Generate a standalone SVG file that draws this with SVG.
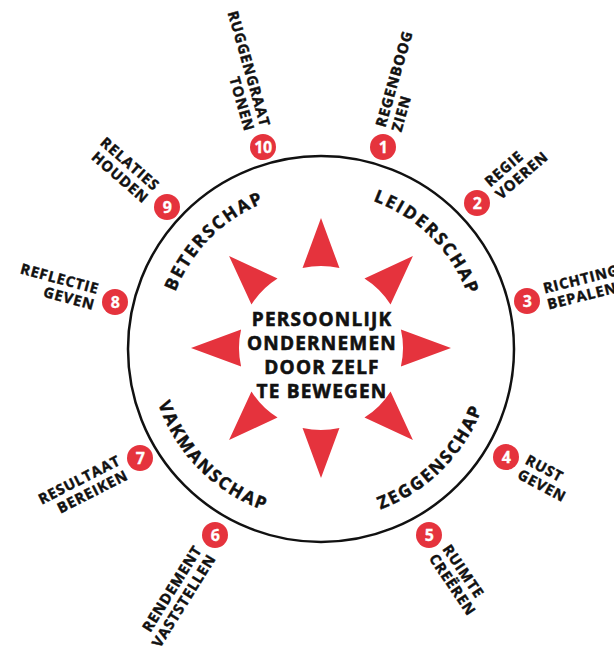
<svg xmlns="http://www.w3.org/2000/svg" xmlns:xlink="http://www.w3.org/1999/xlink" width="614" height="646" viewBox="0 0 614 646">
<style>
  text { font-family: "Open Sans", "Noto Sans", "Liberation Sans", sans-serif; font-weight: bold; fill: #111; stroke: #111; stroke-width: 0.45px; }
  .center { font-size: 19px; letter-spacing: 1.2px; text-anchor: middle; stroke-width: 0.6px; }
  .arc { font-size: 17.5px; letter-spacing: 2px; text-anchor: middle; }
  .lbl { font-size: 14.5px; letter-spacing: 0.9px; }
  .r { text-anchor: start; }
  .l { text-anchor: end; }
  .num { font-size: 16px; fill: #fff; stroke: #fff; stroke-width: 0.3px; text-anchor: middle; letter-spacing: -0.5px; }
  .dot { fill: #e5333d; }
  .tri { fill: #e5333d; }
</style>
<defs>
  <path id="tri" class="tri" d="M -18.45 -79.9 L 0 -130 L 18.45 -79.9 A 82 82 0 0 0 -18.45 -79.9 Z"/>
  <path id="arcBeter" d="M 165 348 A 156 156 0 0 1 321 192"/>
  <path id="arcLeider" d="M 321 192 A 156 156 0 0 1 477 348"/>
  <path id="arcVak" d="M 149 348 A 172 172 0 0 0 321 520"/>
  <path id="arcZeg" d="M 321 520 A 172 172 0 0 0 493 348"/>
</defs>
<rect width="614" height="646" fill="#fff"/>

<g id="ring">
  <circle cx="321" cy="349" r="193" fill="none" stroke="#111" stroke-width="2.5"/>
</g>

<g id="star" transform="translate(321,348)">
  <use xlink:href="#tri"/>
  <use xlink:href="#tri" transform="rotate(45)"/>
  <use xlink:href="#tri" transform="rotate(90)"/>
  <use xlink:href="#tri" transform="rotate(135)"/>
  <use xlink:href="#tri" transform="rotate(180)"/>
  <use xlink:href="#tri" transform="rotate(225)"/>
  <use xlink:href="#tri" transform="rotate(270)"/>
  <use xlink:href="#tri" transform="rotate(315)"/>
</g>

<g id="core">
  <text class="center" x="322" y="326">PERSOONLIJK</text>
  <text class="center" x="322" y="350">ONDERNEMEN</text>
  <text class="center" x="322" y="374">DOOR ZELF</text>
  <text class="center" x="322" y="398">TE BEWEGEN</text>
</g>

<g id="quadrants">
  <text class="arc"><textPath xlink:href="#arcBeter" startOffset="50%">BETERSCHAP</textPath></text>
  <text class="arc"><textPath xlink:href="#arcLeider" startOffset="50%">LEIDERSCHAP</textPath></text>
  <text class="arc"><textPath xlink:href="#arcVak" startOffset="50%">VAKMANSCHAP</textPath></text>
  <text class="arc"><textPath xlink:href="#arcZeg" startOffset="50%">ZEGGENSCHAP</textPath></text>
</g>

<g id="n1">
  <circle class="dot" cx="383" cy="147" r="13"/>
  <text class="num" x="383" y="153">1</text>
  <g transform="translate(383,147) rotate(-74)">
    <text class="lbl r" x="19" y="-3">REGENBOOG</text>
    <text class="lbl r" x="19" y="13.5">ZIEN</text>
  </g>
</g>
<g id="n2">
  <circle class="dot" cx="477" cy="203" r="13"/>
  <text class="num" x="477" y="209">2</text>
  <g transform="translate(477,203) rotate(-41)">
    <text class="lbl r" x="20" y="-3">REGIE</text>
    <text class="lbl r" x="20" y="13.5">VOEREN</text>
  </g>
</g>
<g id="n3">
  <circle class="dot" cx="527" cy="301" r="13"/>
  <text class="num" x="527" y="307">3</text>
  <g transform="translate(527,301) rotate(-14)">
    <text class="lbl r" x="19" y="-3">RICHTING</text>
    <text class="lbl r" x="19" y="13.5">BEPALEN</text>
  </g>
</g>
<g id="n4">
  <circle class="dot" cx="506" cy="457" r="13"/>
  <text class="num" x="506" y="463">4</text>
  <g transform="translate(506,457) rotate(28)">
    <text class="lbl r" x="19" y="-3">RUST</text>
    <text class="lbl r" x="19" y="13.5">GEVEN</text>
  </g>
</g>
<g id="n5">
  <circle class="dot" cx="429" cy="535" r="13"/>
  <text class="num" x="429" y="541">5</text>
  <g transform="translate(429,535) rotate(56)">
    <text class="lbl r" x="19" y="-3">RUIMTE</text>
    <text class="lbl r" x="19" y="13.5">CREËREN</text>
  </g>
</g>
<g id="n6">
  <circle class="dot" cx="215" cy="535" r="13"/>
  <text class="num" x="215" y="541">6</text>
  <g transform="translate(215,535) rotate(-58)">
    <text class="lbl l" x="-19" y="-3">RENDEMENT</text>
    <text class="lbl l" x="-19" y="13.5">VASTSTELLEN</text>
  </g>
</g>
<g id="n7">
  <circle class="dot" cx="140" cy="458" r="13"/>
  <text class="num" x="140" y="464">7</text>
  <g transform="translate(140,458) rotate(-27)">
    <text class="lbl l" x="-19" y="-3">RESULTAAT</text>
    <text class="lbl l" x="-19" y="13.5">BEREIKEN</text>
  </g>
</g>
<g id="n8">
  <circle class="dot" cx="115" cy="302" r="13"/>
  <text class="num" x="115" y="308">8</text>
  <g transform="translate(115,302) rotate(15)">
    <text class="lbl l" x="-19" y="-3">REFLECTIE</text>
    <text class="lbl l" x="-19" y="13.5">GEVEN</text>
  </g>
</g>
<g id="n9">
  <circle class="dot" cx="167" cy="207" r="13"/>
  <text class="num" x="167" y="213">9</text>
  <g transform="translate(167,207) rotate(41)">
    <text class="lbl l" x="-20" y="-3">RELATIES</text>
    <text class="lbl l" x="-20" y="13.5">HOUDEN</text>
  </g>
</g>
<g id="n10">
  <circle class="dot" cx="263" cy="147" r="13"/>
  <text class="num" x="263" y="153">10</text>
  <g transform="translate(263,147) rotate(74)">
    <text class="lbl l" x="-19" y="-3">RUGGENGRAAT</text>
    <text class="lbl l" x="-19" y="13.5">TONEN</text>
  </g>
</g>
</svg>
